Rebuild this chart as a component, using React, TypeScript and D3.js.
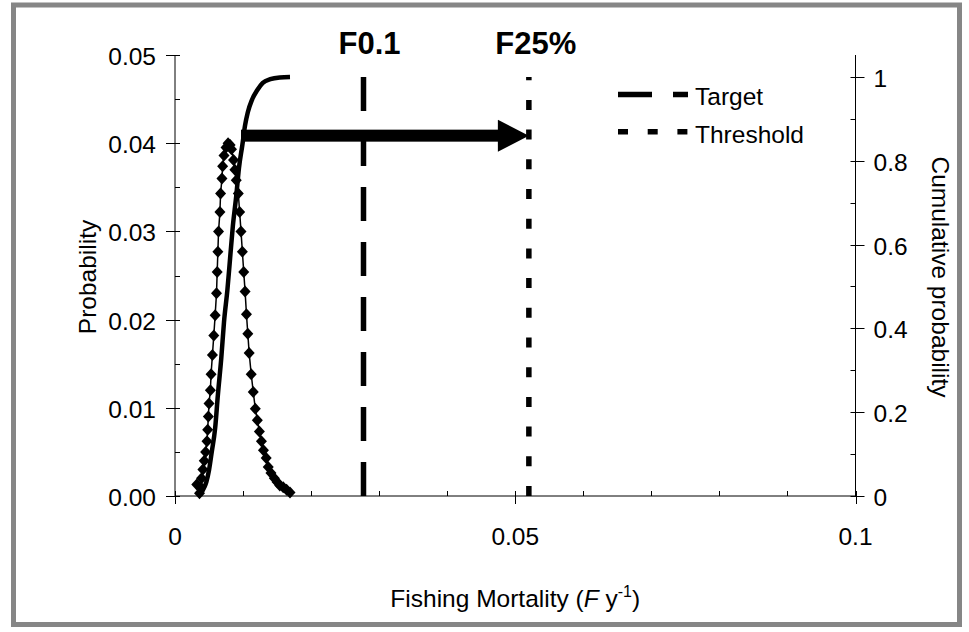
import { useEffect, useRef } from "react"
import * as d3 from "d3"

// probability distribution of F (left axis)
const probF = [
  0.0032, 0.0036, 0.0038, 0.0039, 0.0041, 0.0043, 0.0045, 0.0047, 0.0048, 0.0049,
  0.005, 0.0052, 0.0053, 0.0055, 0.0057, 0.0059, 0.0061, 0.0062, 0.0063, 0.0064,
  0.0066, 0.0067, 0.0069, 0.007, 0.0072, 0.0075, 0.0078, 0.0081, 0.0083, 0.0086,
  0.0088, 0.009, 0.0093, 0.0095, 0.0097, 0.0099, 0.0101, 0.0103, 0.0105, 0.0107,
  0.0109, 0.0112, 0.0115, 0.0118, 0.0121, 0.0124, 0.0127, 0.013, 0.0134, 0.0137,
  0.0141, 0.0146, 0.015, 0.0154, 0.0159, 0.0164, 0.0169,
]
const probValues = [
  0.0013, 0.0003, 0.001, 0.002, 0.003, 0.004, 0.005, 0.0062, 0.0075, 0.009,
  0.0105, 0.012, 0.0138, 0.016, 0.0182, 0.0205, 0.023, 0.0254, 0.0277, 0.03,
  0.0322, 0.0343, 0.036, 0.0374, 0.0386, 0.0395, 0.04, 0.0398, 0.0393, 0.0381,
  0.037, 0.0358, 0.0343, 0.0322, 0.03, 0.0277, 0.0254, 0.0232, 0.0206, 0.0184,
  0.0162, 0.0138, 0.0118, 0.0099, 0.0086, 0.0073, 0.0062, 0.0052, 0.0043, 0.0033,
  0.0026, 0.002, 0.0016, 0.0012, 0.001, 0.0007, 0.0004,
]

// cumulative probability (right axis)
const cumF = [
  0.0037, 0.0041, 0.0046, 0.005, 0.0054, 0.0059, 0.0063, 0.0068, 0.0072, 0.0077,
  0.0081, 0.0085, 0.009, 0.0094, 0.0099, 0.0103, 0.0107, 0.0113, 0.0121, 0.0129,
  0.014, 0.0154, 0.0169,
]
const cumValues = [
  0.002, 0.014, 0.033, 0.062, 0.105, 0.162, 0.241, 0.329, 0.415, 0.492,
  0.568, 0.644, 0.716, 0.783, 0.838, 0.885, 0.916, 0.945, 0.969, 0.986,
  0.995, 0.999, 1.0,
]

// reference points
const refNames = ["F0.1", "F25%"]
const refValues = [0.0277, 0.052]
const legendNames = ["Target", "Threshold"]
const dashPatterns = ["34,21", "10,19.7"]

// arrow: from the cumulative curve at 0.86 over to F25%
const arrowFrom = 0.0097
const arrowLevel = 0.86

const xTicks = [0, 0.05, 0.1]
const leftTicks = [0, 0.01, 0.02, 0.03, 0.04, 0.05]
const rightTicks = [0, 0.2, 0.4, 0.6, 0.8, 1]

export default function App() {
  const svgRef = useRef<SVGSVGElement>(null)

  useEffect(() => {
    if (!svgRef.current) return
    const svg = d3.select(svgRef.current)
    svg.selectAll("*").remove()

    const font = "'Liberation Sans', Arial, sans-serif"
    const fs = 24.5
    const plot = { left: 175, right: 855.5, top: 55, bottom: 496 }

    const x = d3.scaleLinear().domain([0, 0.1]).range([plot.left, plot.right])
    const yL = d3.scaleLinear().domain([0, 0.05]).range([plot.bottom, plot.top])
    const yR = d3.scaleLinear().domain([0, 1.0525]).range([plot.bottom, plot.top])

    svg.style("font-family", font)

    // grey frame
    svg
      .append("rect")
      .attr("x", 13.5)
      .attr("y", 5)
      .attr("width", 946)
      .attr("height", 619.5)
      .attr("fill", "#fff")
      .attr("stroke", "#868686")
      .attr("stroke-width", 5)

    const g = svg.append("g")

    // axes lines
    g.append("line")
      .attr("x1", plot.left).attr("x2", plot.left)
      .attr("y1", plot.top).attr("y2", plot.bottom)
      .attr("stroke", "#000").attr("stroke-width", 1)
    g.append("line")
      .attr("x1", plot.right).attr("x2", plot.right)
      .attr("y1", plot.top).attr("y2", plot.bottom)
      .attr("stroke", "#000").attr("stroke-width", 1)
    g.append("line")
      .attr("x1", plot.left).attr("x2", plot.right)
      .attr("y1", plot.bottom).attr("y2", plot.bottom)
      .attr("stroke", "#000").attr("stroke-width", 1)

    // left axis ticks
    d3.range(0, 0.0501, 0.005).forEach((v, i) => {
      const yy = Math.round(yL(v)) + 0.5
      g.append("line")
        .attr("x1", i % 2 === 0 ? plot.left - 9 : plot.left)
        .attr("x2", plot.left + 5)
        .attr("y1", yy).attr("y2", yy)
        .attr("stroke", "#000")
    })
    leftTicks.forEach((v) => {
      g.append("text")
        .attr("x", plot.left - 19)
        .attr("y", yL(v) + 10)
        .attr("text-anchor", "end")
        .style("font-size", fs + "px")
        .text(v.toFixed(2))
    })

    // right axis ticks
    d3.range(0, 1.001, 0.1).forEach((v, i) => {
      const yy = Math.round(yR(v)) + 0.5
      g.append("line")
        .attr("x1", plot.right - 5)
        .attr("x2", i % 2 === 0 ? plot.right + 9 : plot.right)
        .attr("y1", yy).attr("y2", yy)
        .attr("stroke", "#000")
    })
    rightTicks.forEach((v) => {
      g.append("text")
        .attr("x", plot.right + 18)
        .attr("y", yR(v) + 10)
        .style("font-size", fs + "px")
        .text(String(+v.toFixed(1)))
    })

    // x axis ticks
    d3.range(0, 0.1001, 0.01).forEach((v, i) => {
      const xx = Math.round(x(v)) + 0.5
      g.append("line")
        .attr("x1", xx).attr("x2", xx)
        .attr("y1", plot.bottom - 5)
        .attr("y2", i % 5 === 0 ? plot.bottom + 8 : plot.bottom)
        .attr("stroke", "#000")
    })
    xTicks.forEach((v) => {
      g.append("text")
        .attr("x", x(v))
        .attr("y", 545)
        .attr("text-anchor", "middle")
        .style("font-size", fs + "px")
        .text(String(v))
    })

    // axis titles
    g.append("text")
      .attr("transform", `translate(96,277) rotate(-90)`)
      .attr("text-anchor", "middle")
      .style("font-size", fs + "px")
      .text("Probability")

    g.append("text")
      .attr("transform", `translate(932,277) rotate(90)`)
      .attr("text-anchor", "middle")
      .style("font-size", fs + "px")
      .text("Cumulative probability")

    const xt = g.append("text")
      .attr("x", (plot.left + plot.right) / 2)
      .attr("y", 607)
      .attr("text-anchor", "middle")
      .style("font-size", fs + "px")
    xt.append("tspan").text("Fishing Mortality (")
    xt.append("tspan").style("font-style", "italic").text("F")
    xt.append("tspan").text(" y")
    xt.append("tspan").attr("dy", -10).style("font-size", "16px").text("-1")
    xt.append("tspan").attr("dy", 10).text(")")

    // reference lines (drawn from the bottom so dashes start at zero)
    refValues.forEach((v, i) => {
      g.append("line")
        .attr("x1", x(v)).attr("x2", x(v))
        .attr("y1", yR(0)).attr("y2", yR(1))
        .attr("stroke", "#000")
        .attr("stroke-width", 5.5)
        .attr("stroke-dasharray", dashPatterns[i])
      g.append("text")
        .attr("x", x(v) + (i === 0 ? 6 : 7))
        .attr("y", 54)
        .attr("text-anchor", "middle")
        .style("font-size", "31px")
        .style("font-weight", "bold")
        .text(refNames[i])
    })

    // legend
    legendNames.forEach((name, i) => {
      const ly = i === 0 ? 94.5 : 131.7
      g.append("line")
        .attr("x1", 618).attr("x2", 688)
        .attr("y1", ly).attr("y2", ly)
        .attr("stroke", "#000")
        .attr("stroke-width", 5.5)
        .attr("stroke-dasharray", dashPatterns[i])
      g.append("text")
        .attr("x", 695)
        .attr("y", i === 0 ? 105 : 142.7)
        .style("font-size", fs + "px")
        .text(name)
    })

    // probability line with diamonds
    const probData = probF.map((f, i) => [f, probValues[i]] as [number, number])
    const lineL = d3.line<[number, number]>().x((d) => x(d[0])).y((d) => yL(d[1]))
    g.append("path")
      .datum(probData)
      .attr("d", lineL)
      .attr("fill", "none")
      .attr("stroke", "#000")
      .attr("stroke-width", 1.5)
    g.selectAll(".dia")
      .data(probData)
      .enter()
      .append("path")
      .attr("class", "dia")
      .attr("d", "M0,-6L5.5,0L0,6L-5.5,0Z")
      .attr("transform", (d) => `translate(${x(d[0])},${yL(d[1])})`)
      .attr("fill", "#000")

    // cumulative curve
    const cumData = cumF.map((f, i) => [f, cumValues[i]] as [number, number])
    const lineR = d3
      .line<[number, number]>()
      .x((d) => x(d[0]))
      .y((d) => yR(d[1]))
      .curve(d3.curveMonotoneX)
    g.append("path")
      .datum(cumData)
      .attr("d", lineR)
      .attr("fill", "none")
      .attr("stroke", "#000")
      .attr("stroke-width", 4.5)
      .attr("stroke-linejoin", "round")

    // arrow
    const ay = yR(arrowLevel)
    const ax0 = x(arrowFrom)
    const ax1 = x(refValues[1])
    const headLen = 31
    g.append("rect")
      .attr("x", ax0)
      .attr("y", ay - 6)
      .attr("width", ax1 - headLen - ax0 + 1)
      .attr("height", 12)
      .attr("fill", "#000")
    g.append("path")
      .attr(
        "d",
        `M${ax1 - headLen},${ay - 16}L${ax1},${ay}L${ax1 - headLen},${ay + 16}Z`
      )
      .attr("fill", "#000")
  }, [])

  return (
    <div style={{ position: "absolute", left: 0, top: 0 }}>
      <svg ref={svgRef} width={969} height={632} style={{ display: "block" }} />
    </div>
  )
}
